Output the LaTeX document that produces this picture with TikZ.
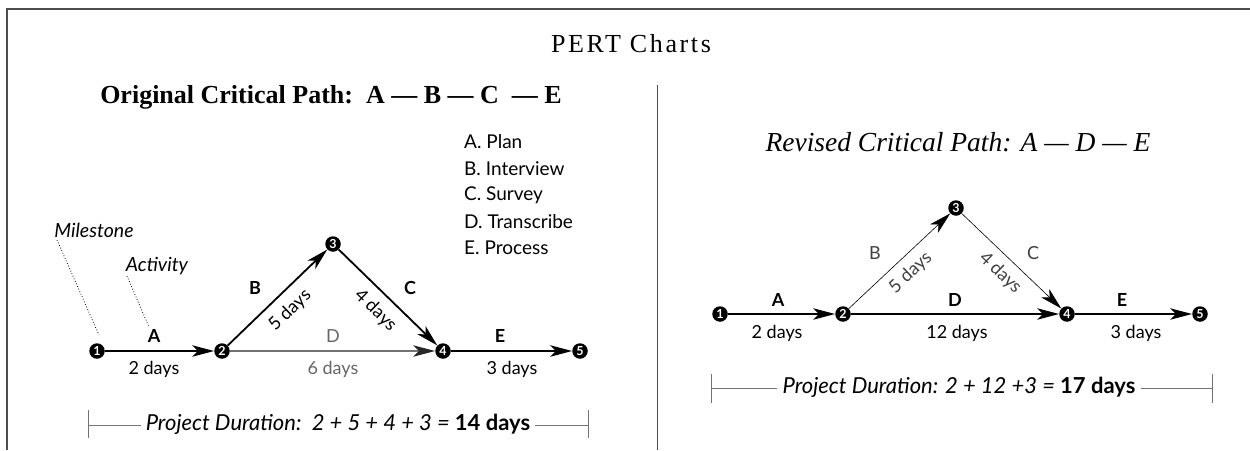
\documentclass[tikz,border=0pt]{standalone}
\usepackage{fontspec}
\setmainfont{Liberation Serif}
\setsansfont{Lato}
\usetikzlibrary{arrows.meta}
\begin{document}
\begin{tikzpicture}[x=1pt,y=-1pt,
  ms/.style={circle,fill=black,inner sep=0pt,minimum size=15.5pt,text=white,
    font=\sffamily\bfseries\fontsize{12.5}{12.5}\selectfont},
  tip/.style={-{Stealth[length=22pt,width=11.5pt,inset=6pt]}},
  crit/.style={tip,line width=1.8pt,black},
  greyact/.style={-{Stealth[length=22pt,width=11.5pt,inset=6pt,color=black!85]},line width=1.3pt,black!55},
  thinact/.style={tip,line width=0.6pt,black},
  lbl/.style={font=\sffamily\fontsize{18}{20}\selectfont,inner sep=0pt},
  lblb/.style={font=\sffamily\bfseries\fontsize{18}{20}\selectfont,inner sep=0pt},
  leg/.style={font=\sffamily\fontsize{19}{21}\selectfont,inner sep=0pt,anchor=west},
  note/.style={font=\sffamily\itshape\fontsize{19.5}{21}\selectfont,inner sep=0pt},
  lead/.style={dotted,line width=0.8pt},
  bar/.style={line width=1pt,black!55},
  dur/.style={font=\sffamily\itshape\fontsize{22}{24}\selectfont,inner sep=5pt}
]
\useasboundingbox (0,0) rectangle (1250,450);

% frame and divider
\draw[line width=1.2pt,black!70] (7,450) -- (7,9) -- (1250,9);
\draw[line width=0.8pt,black!70] (657,85) -- (657,450);

% headings
\node[font=\fontsize{26}{28}\selectfont\addfontfeature{LetterSpace=10}] (title) at (631,44) {PERT Charts};
\node[font=\bfseries\fontsize{26}{28}\selectfont] (orig) at (331,97) {Original Critical Path:\ \ A — B — C \ — E};
\node[font=\itshape\fontsize{27.5}{30}\selectfont] (rev) at (958,142) {Revised Critical Path: A — D — E};

% legend
\node[leg] (la) at (464,142) {A. Plan};
\node[leg] (lb) at (464,168.5) {B. Interview};
\node[leg] (lc) at (464,195) {C. Survey};
\node[leg] (ld) at (464,221.5) {D. Transcribe};
\node[leg] (le) at (464,248) {E. Process};

% ---------- original network ----------
\node[ms] (a1) at (97,351) {1};
\node[ms] (a2) at (222,351) {2};
\node[ms] (a3) at (333,244) {3};
\node[ms] (a4) at (443,351) {4};
\node[ms] (a5) at (580,351) {5};

\draw[crit] (a1) -- (a2);
\draw[crit] (a2) -- node[lbl,sloped,below=9pt] {5 days} (a3);
\draw[crit] (a3) -- node[lbl,sloped,below=9pt] {4 days} (a4);
\draw[greyact] (a2) -- (a4);
\draw[crit] (a4) -- (a5);

\node[lblb] (tA) at (154,336) {A};
\node[lbl] (dA) at (154,369) {2 days};
\node[lblb] (tB) at (255,288) {B};
\node[lblb] (tC) at (410,288) {C};
\node[lbl,text=black!60] (tD) at (333,336) {D};
\node[lbl,text=black!60] (dD) at (333,369) {6 days};
\node[lblb] (tE) at (500,336) {E};
\node[lbl] (dE) at (512,369) {3 days};

% annotations
\node[note] (mile) at (94,230) {Milestone};
\node[note] (actv) at (157,266) {Activity};
\coordinate (mileend) at (99,335);
\coordinate (actvend) at (149,327);
\draw[lead] (57,240) -- (mileend);
\draw[lead] (127,276) -- (actvend);

% duration bar
\node[dur] (durA) at (338,424) {Project Duration:\ \ 2 + 5 + 4 + 3 = \textbf{\upshape 14 days}};
\coordinate (barAl) at (88,425);
\coordinate (barAr) at (588,425);
\draw[bar] (barAl) -- (barAl -| durA.west);
\draw[bar] (barAr -| durA.east) -- (barAr);
\draw[bar] (88,410) -- (88,438);
\draw[bar] (588,410) -- (588,438);

% ---------- revised network ----------
\node[ms] (b1) at (720,314) {1};
\node[ms] (b2) at (843,314) {2};
\node[ms] (b3) at (956,208) {3};
\node[ms] (b4) at (1067,314) {4};
\node[ms] (b5) at (1200,314) {5};

\draw[crit] (b1) -- (b2);
\draw[thinact] (b2) -- node[lbl,sloped,below=8pt,text=black!75] {5 days} (b3);
\draw[thinact] (b3) -- node[lbl,sloped,below=8pt,text=black!75] {4 days} (b4);
\draw[crit] (b2) -- (b4);
\draw[crit] (b4) -- (b5);

\node[lblb] (sA) at (778,300) {A};
\node[lbl] (eA) at (777,333) {2 days};
\node[lbl,text=black!75] (sB) at (875,253) {B};
\node[lbl,text=black!75] (sC) at (1033,253) {C};
\node[lblb] (sD) at (955,300) {D};
\node[lbl] (eD) at (957,333) {12 days};
\node[lblb] (sE) at (1122,300) {E};
\node[lbl] (eE) at (1136,333) {3 days};

\node[dur] (durB) at (959,387) {Project Duration: 2 + 12 +3 = \textbf{\upshape 17 days}};
\coordinate (barBl) at (711,388);
\coordinate (barBr) at (1212,388);
\draw[bar] (barBl) -- (barBl -| durB.west);
\draw[bar] (barBr -| durB.east) -- (barBr);
\draw[bar] (711,374) -- (711,403);
\draw[bar] (1212,374) -- (1212,403);
\end{tikzpicture}
\end{document}
